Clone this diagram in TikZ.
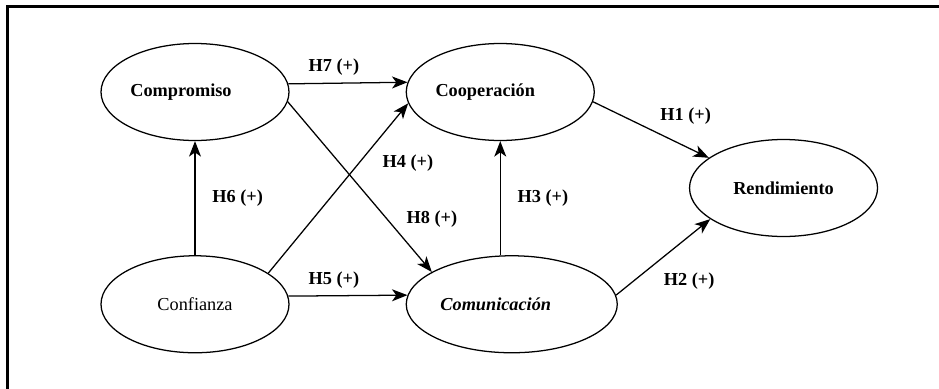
\documentclass[tikz,border=0pt]{standalone}
\usepackage{fontspec}
\setmainfont{Liberation Serif}
\usetikzlibrary{shapes.geometric, arrows.meta, positioning}

\begin{document}
\begin{tikzpicture}[
  node distance=2.9cm,
  var/.style={ellipse, draw, line width=0.9pt, inner sep=0pt, minimum width=4.7cm, minimum height=2.425cm, font=\fontsize{13}{15}\selectfont\bfseries},
  hyp/.style={font=\fontsize{13}{15}\selectfont\bfseries, inner sep=2pt},
  >={Stealth[length=11pt, width=8.5pt, inset=3pt]},
  every path/.style={line width=0.9pt}
]
\useasboundingbox (0,0) rectangle (23.475,-9.7);
\draw[line width=2.2pt] (0.1875,-9.9) |- (23.7,-0.1625);

\node[var] (comp) at (4.875,-2.3) {Compromiso\hspace*{0.7cm}};
\node[var, right=of comp] (coop) {Cooperación\hspace*{0.75cm}};
\node[var, below=2.85cm of comp, font=\fontsize{13}{15}\selectfont] (conf) {Confianza};
\node[var, right=of conf, minimum width=5.275cm] (comu) {\itshape Comunicación\hspace*{0.8cm}};
\node[var, right=2.35cm of coop, yshift=-2.4cm] (rend) {Rendimiento};

\draw[->] (comp.5.6) -- node[hyp, midway, above=3pt, xshift=-0.35cm] {H7 (+)} (coop.174.4);
\draw[->] (comp.-6) -- node[hyp, pos=0.69, right=0.4cm] {H8 (+)} (comu.158.7);
\draw[->] (conf.23.9) -- node[hyp, pos=0.65, right=0.5cm] {H4 (+)} (coop.-173.3);
\draw[->] (conf.5.6) -- node[hyp, midway, above=3pt, xshift=-0.35cm] {H5 (+)} (comu.175);
\draw[->] (conf.north) -- node[hyp, midway, right=0.35cm] {H6 (+)} (comp.south);
\draw[->] (coop.south |- comu.north) -- node[hyp, midway, right=0.35cm] {H3 (+)} (coop.south);
\draw[->] (coop.-6) -- node[hyp, midway, above right=0.05cm and 0.15cm] {H1 (+)} (rend.158.7);
\draw[->] (comu.5) -- node[hyp, pos=0.45, below right=0.2cm and 0.05cm] {H2 (+)} (rend.203.9);
\end{tikzpicture}
\end{document}
